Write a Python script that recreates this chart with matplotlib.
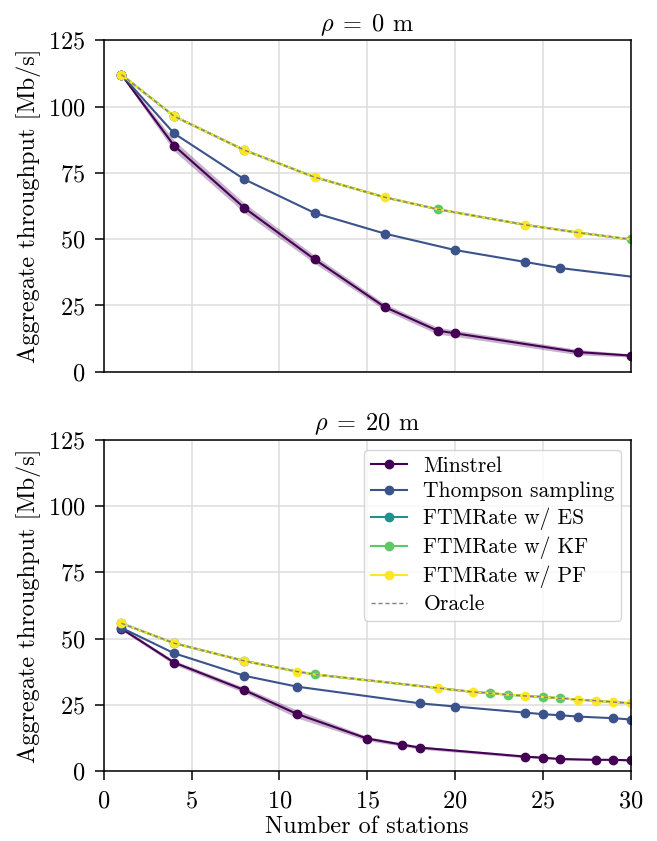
import matplotlib
matplotlib.use("Agg")
import matplotlib.pyplot as plt
from matplotlib import cm

plt.rcParams['font.family'] = 'serif'
plt.rcParams['font.serif'] = ['cmr10', 'DejaVu Serif']
plt.rcParams['mathtext.fontset'] = 'cm'
plt.rcParams['axes.unicode_minus'] = False
plt.rcParams['axes.formatter.use_mathtext'] = True

# ---- rho = 0 m ----
top_minstrel_x = [1, 4, 8, 12, 16, 19, 20, 27, 30]
top_minstrel_y = [112.1, 85.3, 61.8, 42.4, 24.4, 15.5, 14.5, 7.4, 6.1]
top_minstrel_err = [0.5, 2.0, 1.8, 1.5, 1.2, 1.3, 1.2, 1.0, 0.6]
top_minstrel_marks = [0, 1, 2, 3, 4, 5, 6, 7, 8]

top_ts_x = [1, 4, 8, 12, 16, 20, 24, 26, 30]
top_ts_y = [112.1, 89.9, 72.6, 59.9, 52.1, 45.9, 41.4, 39.1, 35.9]
top_ts_marks = [0, 1, 2, 3, 4, 5, 6, 7]

top_ftm_x = [1, 4, 8, 12, 16, 19, 24, 27, 30]
top_ftm_y = [112.1, 96.4, 83.6, 73.4, 65.8, 61.3, 55.4, 52.5, 49.9]
top_es_marks = [0, 1, 2]
top_kf_marks = [1, 5, 8]
top_pf_marks = [0, 1, 2, 3, 4, 6, 7]

# ---- rho = 20 m ----
bot_minstrel_x = [1, 4, 8, 11, 15, 17, 18, 24, 25, 26, 28, 29, 30]
bot_minstrel_y = [53.8, 41.0, 30.6, 21.6, 12.3, 10.0, 8.9, 5.5, 5.1, 4.6, 4.3, 4.3, 4.1]
bot_minstrel_err = [0.6, 0.8, 1.0, 1.5, 0.8, 0.6, 0.6, 0.5, 0.4, 0.4, 0.3, 0.3, 0.3]
bot_minstrel_marks = list(range(13))

bot_ts_x = [1, 4, 8, 11, 18, 20, 24, 25, 26, 27, 29, 30]
bot_ts_y = [54.1, 44.5, 36.0, 31.9, 25.6, 24.4, 22.1, 21.5, 21.1, 20.6, 20.0, 19.5]
bot_ts_marks = list(range(12))

bot_ftm_x = [1, 4, 8, 11, 12, 19, 21, 22, 23, 24, 25, 26, 27, 28, 29, 30]
bot_ftm_y = [55.8, 48.3, 41.6, 37.6, 36.5, 31.4, 29.9, 29.4, 28.9, 28.4, 28.0, 27.5, 27.0, 26.6, 26.1, 25.6]
bot_es_marks = [0, 1, 2]
bot_kf_marks = [4, 7, 8, 10, 11]
bot_pf_marks = [0, 1, 2, 3, 5, 6, 9, 12, 13, 14, 15]

titles = [r'$\rho\;=\;0$ m', r'$\rho\;=\;20$ m']
labels = ['Minstrel', 'Thompson sampling', 'FTMRate w/ ES', 'FTMRate w/ KF', 'FTMRate w/ PF', 'Oracle']
colors = [cm.viridis(v) for v in [0.0, 0.25, 0.5, 0.75, 1.0]]

panels = [
    (top_minstrel_x, top_minstrel_y, top_minstrel_err, top_minstrel_marks,
     top_ts_x, top_ts_y, top_ts_marks, top_ftm_x, top_ftm_y,
     top_es_marks, top_kf_marks, top_pf_marks),
    (bot_minstrel_x, bot_minstrel_y, bot_minstrel_err, bot_minstrel_marks,
     bot_ts_x, bot_ts_y, bot_ts_marks, bot_ftm_x, bot_ftm_y,
     bot_es_marks, bot_kf_marks, bot_pf_marks),
]

fig = plt.figure(figsize=(6.57, 8.41), dpi=100)
ax1 = fig.add_axes([0.158, 0.558, 0.802, 0.394])
ax2 = fig.add_axes([0.158, 0.083, 0.802, 0.394], sharex=ax1)

fs = 17.5
lw = 1.5
ms = 6
for ax, title, p in zip([ax1, ax2], titles, panels):
    (mx, my, merr, mmarks, tx, ty, tmarks, fx, fy, esm, kfm, pfm) = p
    lo = [a - b for a, b in zip(my, merr)]
    hi = [a + b for a, b in zip(my, merr)]
    ax.fill_between(mx, lo, hi, color=colors[0], alpha=0.3, lw=0)
    ax.plot(mx, my, color=colors[0], lw=lw, marker='o', ms=ms, markevery=mmarks, label=labels[0])
    ax.plot(tx, ty, color=colors[1], lw=lw, marker='o', ms=ms, markevery=tmarks, label=labels[1])
    ax.plot(fx, fy, color=colors[2], lw=lw, marker='o', ms=ms, markevery=esm, label=labels[2])
    ax.plot(fx, fy, color=colors[3], lw=lw, marker='o', ms=ms, markevery=kfm, label=labels[3])
    ax.plot(fx, fy, color=colors[4], lw=lw, marker='o', ms=ms, markevery=pfm, label=labels[4])
    ax.plot(fx, fy, color='gray', lw=1.0, ls='--', dashes=(3, 2), label=labels[5])
    ax.set_xlim(0, 30)
    ax.set_ylim(0, 125)
    ax.set_yticks([0, 25, 50, 75, 100, 125])
    ax.set_xticks([0, 5, 10, 15, 20, 25, 30])
    ax.grid(True, color='#dcdcdc', lw=1.1)
    ax.set_axisbelow(True)
    ax.set_title(title, fontsize=fs, pad=7)
    ax.set_ylabel('Aggregate throughput [Mb/s]', fontsize=fs, labelpad=5)
    ax.tick_params(labelsize=fs, length=6.5, width=1.1, pad=7)
    for s in ax.spines.values():
        s.set_linewidth(1.1)

ax1.tick_params(axis='x', bottom=False, labelbottom=False)
ax2.set_xlabel('Number of stations', fontsize=fs, labelpad=3)
ax2.legend(loc='upper right', fontsize=15.5, framealpha=0.8, handlelength=1.7,
           borderpad=0.3, labelspacing=0.3, handletextpad=0.75, borderaxespad=0.45)

fig.savefig('out.png', dpi=100)
